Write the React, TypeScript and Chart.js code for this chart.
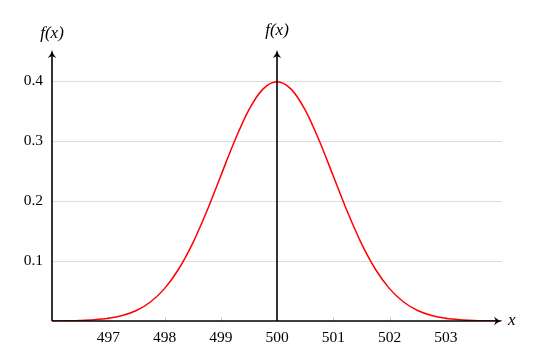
import React, { useEffect, useRef } from "react";
import { Chart, registerables } from "chart.js";

Chart.register(...registerables);

// x positions (step 0.25) and f(x) values
const xValues = [
  496, 496.25, 496.5, 496.75, 497, 497.25, 497.5, 497.75, 498, 498.25, 498.5, 498.75,
  499, 499.25, 499.5, 499.75, 500, 500.25, 500.5, 500.75, 501, 501.25, 501.5, 501.75,
  502, 502.25, 502.5, 502.75, 503, 503.25, 503.5, 503.75, 504,
];
const fValues = [
  0.0001, 0.0004, 0.0009, 0.002, 0.0044, 0.0091, 0.0175, 0.0317, 0.054, 0.0863, 0.1295, 0.1826,
  0.242, 0.3011, 0.3521, 0.3867, 0.3989, 0.3867, 0.3521, 0.3011, 0.242, 0.1826, 0.1295, 0.0863,
  0.054, 0.0317, 0.0175, 0.0091, 0.0044, 0.002, 0.0009, 0.0004, 0.0001,
];
const meanX = 500;
const xTicks = [497, 498, 499, 500, 501, 502, 503];
const yTicks = [0.1, 0.2, 0.3, 0.4];
const xMin = 496;
const xMax = 504;
const yMax = 0.452;

const SERIF = "'Liberation Serif', 'DejaVu Serif', serif";

function arrow(ctx: CanvasRenderingContext2D, x: number, y: number, dir: "up" | "right") {
  ctx.save();
  ctx.translate(x, y);
  if (dir === "right") ctx.rotate(Math.PI / 2);
  ctx.fillStyle = "#000";
  ctx.beginPath();
  ctx.moveTo(0, 0);
  ctx.quadraticCurveTo(0.8, 4.5, 4.2, 8);
  ctx.lineTo(0, 6);
  ctx.lineTo(-4.2, 8);
  ctx.quadraticCurveTo(-0.8, 4.5, 0, 0);
  ctx.closePath();
  ctx.fill();
  ctx.restore();
}

const decorPlugin = {
  id: "decor",
  beforeDatasetsDraw(chart: any) {
    const ctx = chart.ctx as CanvasRenderingContext2D;
    const xs = chart.scales.x;
    const area = chart.chartArea;
    ctx.save();
    ctx.strokeStyle = "#c8c8c8";
    ctx.lineWidth = 1;
    xTicks.forEach((t) => {
      const px = Math.round(xs.getPixelForValue(t)) + 0.5;
      ctx.beginPath();
      ctx.moveTo(px, area.bottom);
      ctx.lineTo(px, area.bottom - 4);
      ctx.stroke();
    });
    ctx.restore();
  },
  afterDraw(chart: any) {
    const ctx = chart.ctx as CanvasRenderingContext2D;
    const xs = chart.scales.x;
    const ys = chart.scales.y;
    const area = chart.chartArea;
    ctx.save();
    ctx.strokeStyle = "#000";
    ctx.lineWidth = 1.6;
    ctx.beginPath();
    ctx.moveTo(area.left, area.bottom);
    ctx.lineTo(area.left, area.top + 5);
    ctx.moveTo(area.left, area.bottom);
    ctx.lineTo(area.right - 5, area.bottom);
    ctx.stroke();
    const mx = xs.getPixelForValue(meanX);
    arrow(ctx, area.left, ys.getPixelForValue(yMax), "up");
    arrow(ctx, mx, ys.getPixelForValue(yMax), "up");
    arrow(ctx, xs.getPixelForValue(xMax), area.bottom, "right");
    ctx.fillStyle = "#000";
    ctx.textAlign = "center";
    ctx.textBaseline = "middle";
    ctx.font = `italic 17px ${SERIF}`;
    ctx.fillText("f(x)", area.left, area.top - 16);
    ctx.fillText("f(x)", mx, area.top - 19);
    ctx.textAlign = "left";
    ctx.fillText("x", area.right + 6, area.bottom);
    ctx.restore();
  },
};

export default function App() {
  const ref = useRef<HTMLCanvasElement>(null);
  useEffect(() => {
    if (!ref.current) return;
    const curve = xValues.map((x, i) => ({ x, y: fValues[i] }));
    const chart = new Chart(ref.current, {
      type: "line",
      data: {
        datasets: [
          {
            data: [
              { x: meanX, y: 0 },
              { x: meanX, y: yMax - 0.008 },
            ],
            borderColor: "#000",
            borderWidth: 1.6,
            pointRadius: 0,
            tension: 0,
          },
          {
            data: curve,
            borderColor: "#ff0000",
            borderWidth: 1.5,
            pointRadius: 0,
            cubicInterpolationMode: "monotone",
          },
        ],
      },
      options: {
        responsive: false,
        animation: false,
        layout: { padding: { left: 0, top: 50, right: 38, bottom: 0 } },
        plugins: { legend: { display: false }, tooltip: { enabled: false } },
        scales: {
          x: {
            type: "linear",
            min: xMin,
            max: xMax,
            afterBuildTicks: (s: any) => {
              s.ticks = xTicks.map((v) => ({ value: v }));
            },
            afterFit: (s: any) => {
              s.height = 42;
            },
            grid: { display: false, drawTicks: false },
            border: { display: false },
            ticks: {
              color: "#000",
              padding: 8,
              maxRotation: 0,
              autoSkip: false,
              font: { family: SERIF, size: 15.5 },
              callback: (v: any) => String(v),
            },
          },
          y: {
            type: "linear",
            min: 0,
            max: yMax,
            afterBuildTicks: (s: any) => {
              s.ticks = yTicks.map((v) => ({ value: v }));
            },
            afterFit: (s: any) => {
              s.width = 52;
            },
            grid: { color: "#dcdcdc", lineWidth: 1, drawTicks: false },
            border: { display: false },
            ticks: {
              color: "#000",
              padding: 9,
              font: { family: SERIF, size: 15.5 },
              callback: (v: any) => Number(v).toFixed(1),
            },
          },
        },
      },
      plugins: [decorPlugin],
    });
    return () => chart.destroy();
  }, []);
  return (
    <div style={{ position: "absolute", left: 0, top: 0, width: 540, height: 363, background: "#fff" }}>
      <canvas ref={ref} width={540} height={363} />
    </div>
  );
}
